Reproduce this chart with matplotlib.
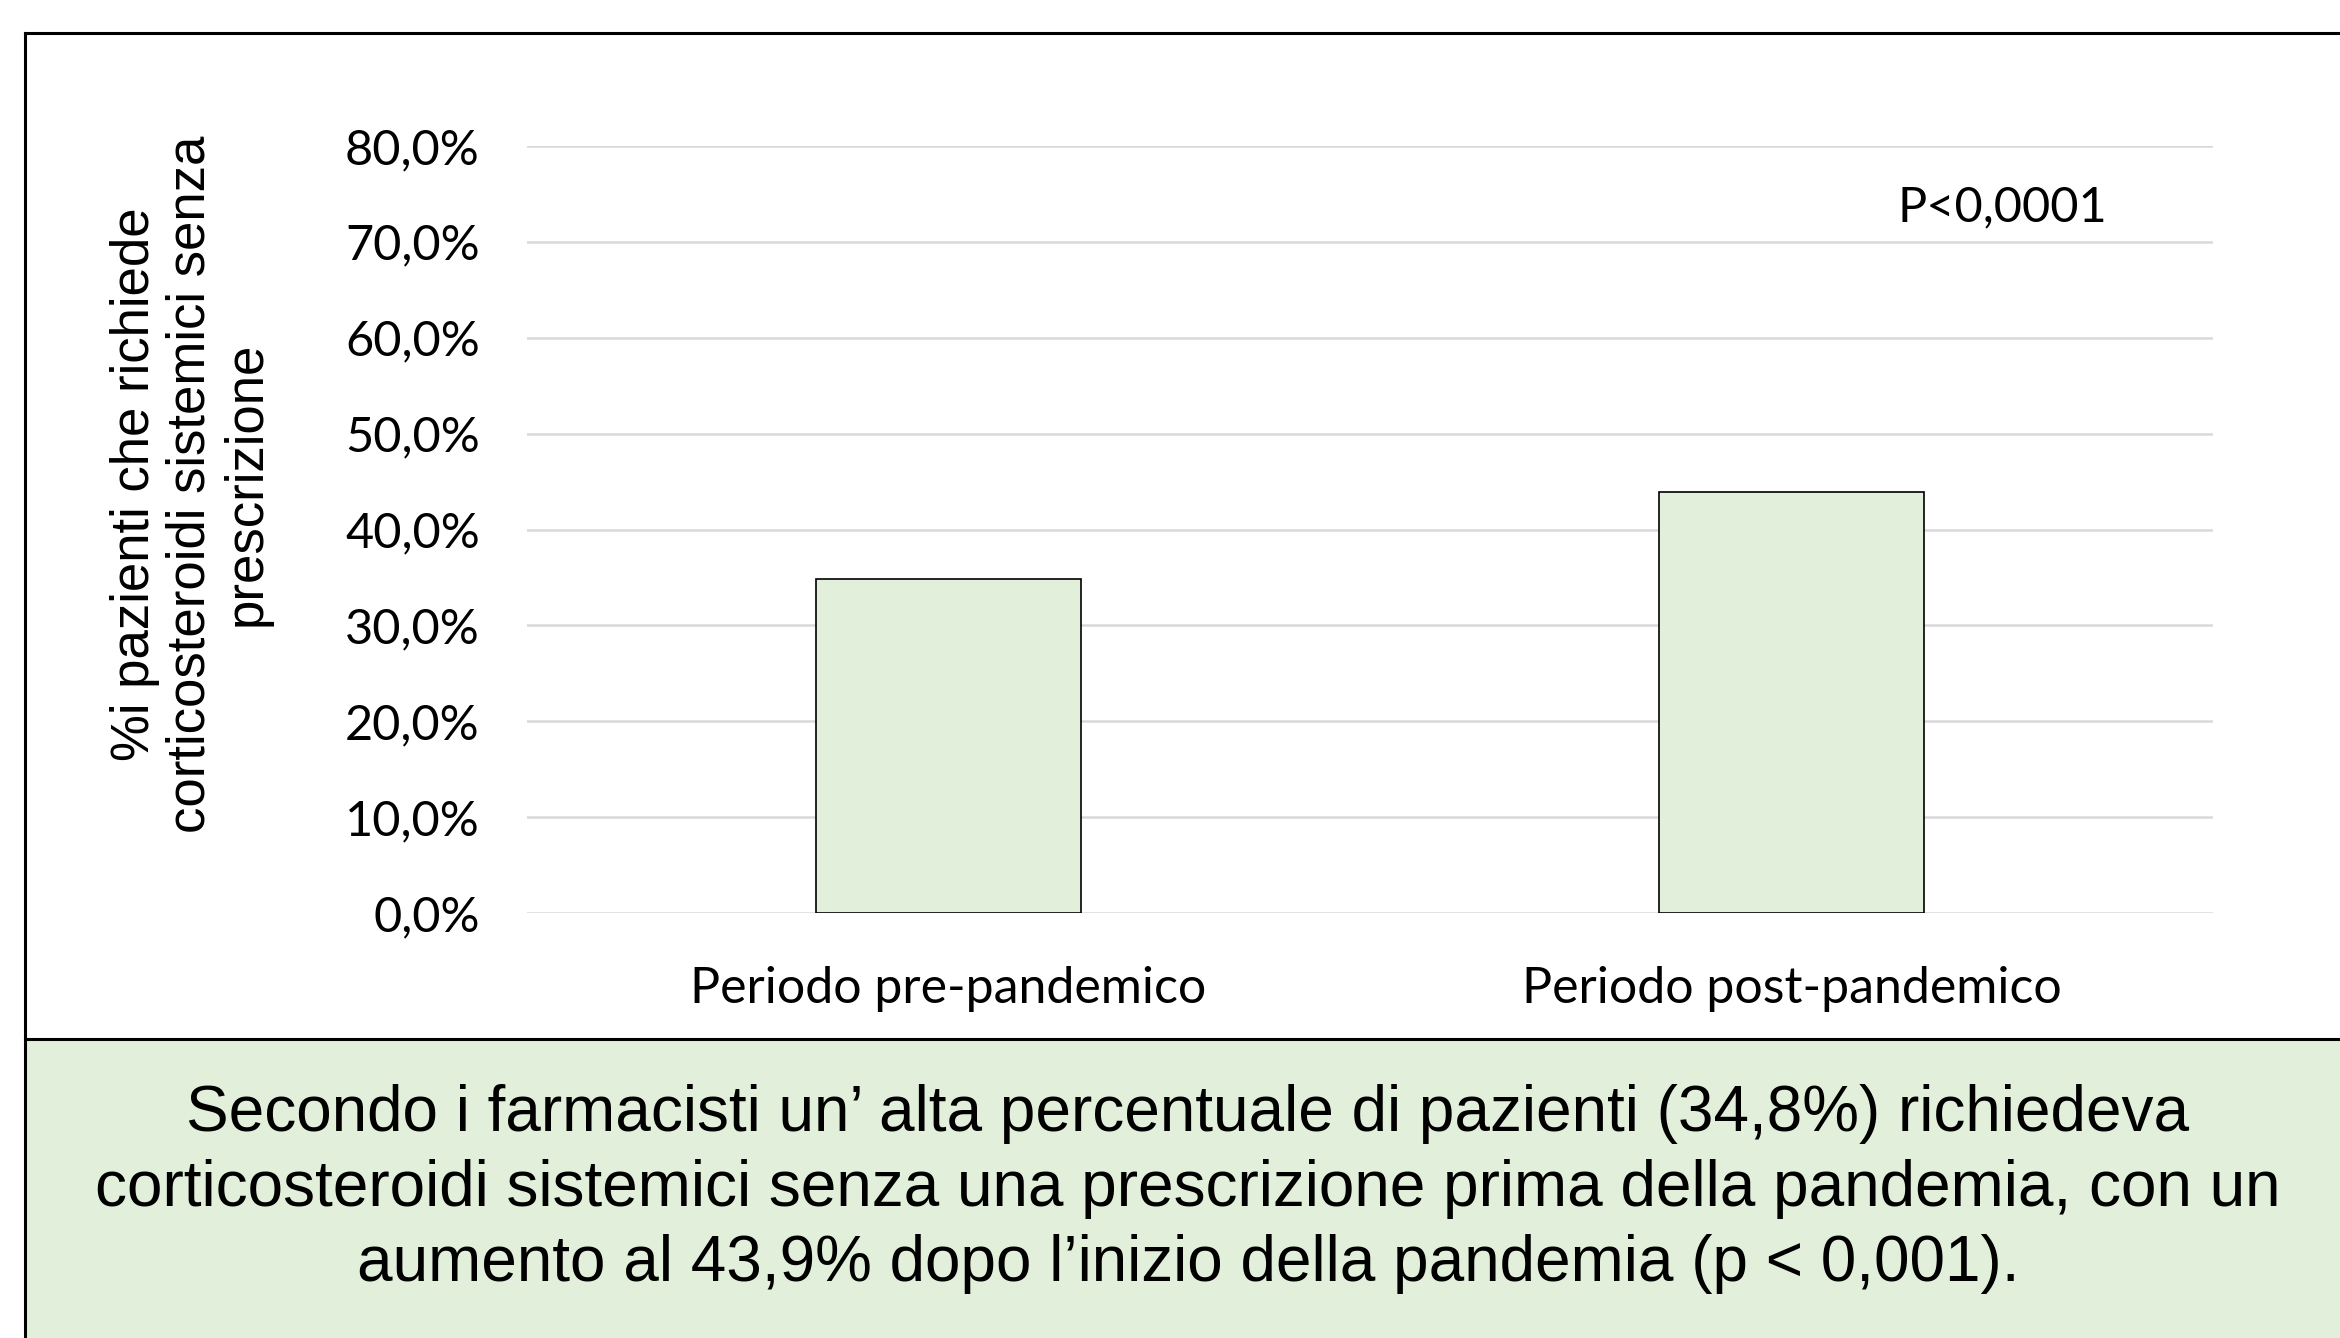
import matplotlib.pyplot as plt
from matplotlib.patches import Rectangle
from matplotlib.lines import Line2D

# dati
categorie = ["Periodo pre-pandemico", "Periodo post-pandemico"]
percentuali = [34.8, 43.9]
yticks = [0, 10, 20, 30, 40, 50, 60, 70, 80]
ylabel = "%i pazienti che richiede\ncorticosteroidi sistemici senza\nprescrizione"
nota_p = "P<0,0001"
conclusione = ("Secondo i farmacisti un\u2019 alta percentuale di pazienti (34,8%) richiedeva\n"
               "corticosteroidi sistemici senza una prescrizione prima della pandemia, con un\n"
               "aumento al 43,9% dopo l\u2019inizio della pandemia (p < 0,001).")

verde = "#E2EFDA"
font_cal = "Lato"
font_ar = "Liberation Sans"

W, H = 2340, 1338
fig = plt.figure(figsize=(W / 100, H / 100), dpi=100)
fig.patch.set_facecolor("white")

# riquadro verde in basso + bordi
fig.patches.append(Rectangle((25 / W, 0), 1, 1 - 1039 / H, transform=fig.transFigure,
                             facecolor=verde, edgecolor="none", zorder=0))
for xs, ys in [([25 / W, 1], [1 - 33 / H, 1 - 33 / H]),
               ([25 / W, 25 / W], [0, 1 - 33 / H]),
               ([25 / W, 1], [1 - 1039 / H, 1 - 1039 / H])]:
    fig.lines.append(Line2D(xs, ys, transform=fig.transFigure, color="black", lw=2.2))

ax = fig.add_axes([527 / W, 1 - 913 / H, (2213 - 527) / W, (913 - 146) / H])
x = range(len(categorie))
ax.bar(x, percentuali, width=0.315, color=verde, edgecolor="black", linewidth=1.2, zorder=3)
ax.set_xlim(-0.5, 1.5)
ax.set_ylim(0, 80)
ax.set_yticks(yticks)
ax.set_yticklabels([f"{v:.1f}%".replace(".", ",") for v in yticks], fontfamily=font_cal, fontsize=35)
ax.set_xticks(list(x))
ax.set_xticklabels(categorie, fontfamily=font_cal, fontsize=36)
ax.tick_params(axis="y", length=0, pad=34)
ax.tick_params(axis="x", length=0, pad=38)
ax.grid(axis="y", color="#D9D9D9", linewidth=1.8, zorder=0)
for s in ax.spines.values():
    s.set_visible(False)

ax.text(1.25, 73.6, nota_p, ha="center", va="center", fontfamily=font_cal, fontsize=35)

fig.text(191 / W, 1 - 484 / H, ylabel, rotation=90, ha="center", va="center",
         multialignment="center", fontfamily=font_ar, fontsize=38, linespacing=1.15)

fig.text(1188 / W, 1 - 1189 / H, conclusione, ha="center", va="center",
         fontfamily=font_ar, fontsize=46, linespacing=1.32)

fig.savefig("out.png", dpi=100)
